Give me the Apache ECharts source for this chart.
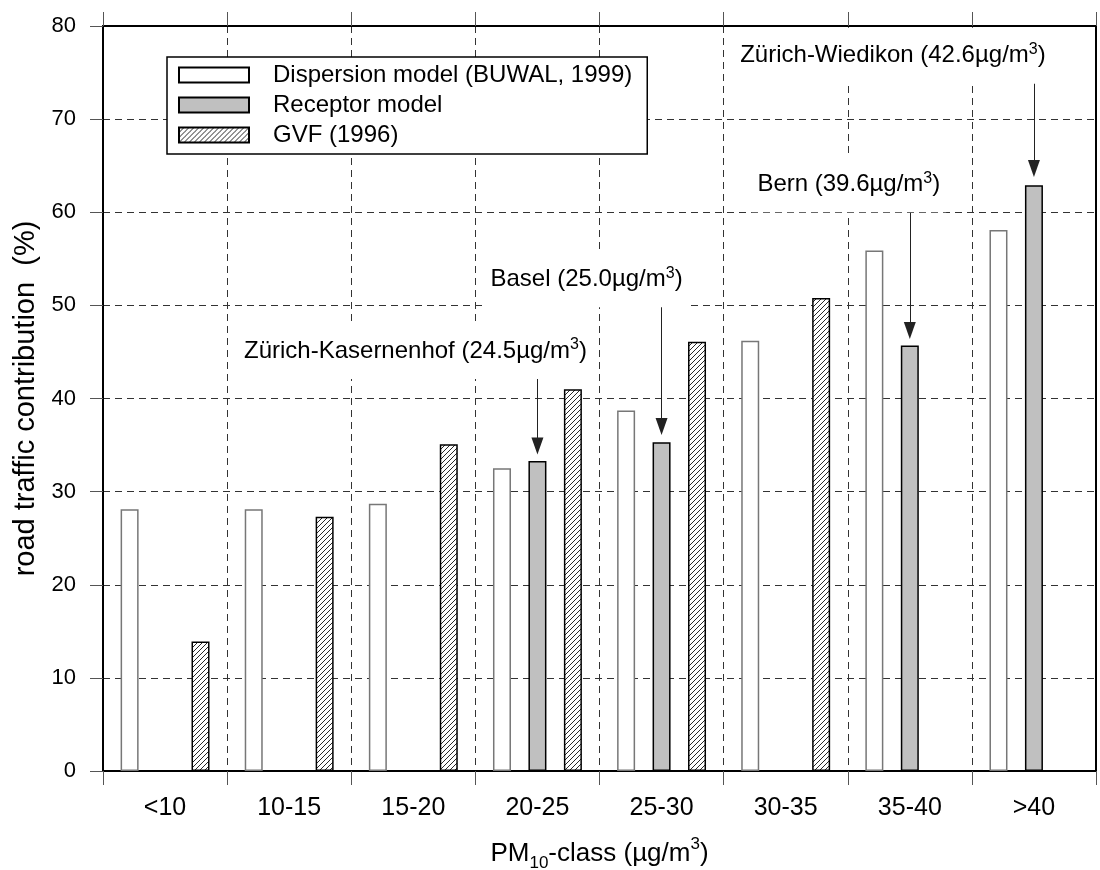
<!DOCTYPE html>
<html>
<head>
<meta charset="utf-8">
<title>PM10 road traffic contribution</title>
<script src="https://cdn.jsdelivr.net/npm/echarts@6/dist/echarts.min.js"></script>
<style>
  html, body { margin: 0; padding: 0; background: #fff; }
  #chart { width: 1100px; height: 870px; }
</style>
</head>
<body>
<div id="chart"></div>
<script>
// PM10 classes on the x axis
var categories = ['<10', '10-15', '15-20', '20-25', '25-30', '30-35', '35-40', '>40'];
var legendNames = ['Dispersion model (BUWAL, 1999)', 'Receptor model', 'GVF (1996)'];

// road traffic contribution (%) per class
var dispersion = [28.1, 28.1, 28.7, 32.5, 38.7, 46.2, 55.9, 58.1];
var receptor   = [null, null, null, 33.3, 35.3, null, 45.7, 62.9];
var gvf        = [13.9, 27.3, 35.1, 41.0, 46.1, 50.8, null, null];

// receptor-model sites (annotations)
var siteNames  = ['Zürich-Kasernenhof', 'Basel', 'Bern', 'Zürich-Wiedikon'];
var siteConc   = ['24.5', '25.0', '39.6', '42.6'];
var siteClass  = ['20-25', '25-30', '35-40', '>40'];
var labelLevel = [45.1, 52.8, 63.0, 76.8];
var arrowFrom  = [42.5, 50.6, 60.6, 74.3];
var arrowTo    = [34.9, 37.0, 47.3, 64.7];

var FONT = '"Liberation Sans", Arial, sans-serif';
var labelShift = [-122, -75, -61, -141];

function makeHatch() {
    var c = document.createElement('canvas');
    c.width = 5; c.height = 5;
    var g = c.getContext('2d');
    g.fillStyle = '#fff';
    g.fillRect(0, 0, 5, 5);
    g.strokeStyle = '#111';
    g.lineWidth = 0.9;
    g.beginPath();
    g.moveTo(0, 5); g.lineTo(5, 0);
    g.moveTo(-1, 1); g.lineTo(1, -1);
    g.moveTo(4, 6); g.lineTo(6, 4);
    g.stroke();
    return c;
}

var arrows = [];
var labels = [];
for (var i = 0; i < siteNames.length; i++) {
    arrows.push([
        { coord: [siteClass[i], arrowFrom[i]], symbol: 'none' },
        { coord: [siteClass[i], arrowTo[i]], symbol: 'triangle', symbolSize: [12, 17] }
    ]);
    labels.push({
        coord: [siteClass[i], labelLevel[i]],
        label: {
            offset: [labelShift[i], 0],
            formatter: '{t|' + siteNames[i] + ' (' + siteConc[i] + 'µg/m}{sup|3}{t|)}'
        }
    });
}

var richText = {
    t: { fontSize: 24, fontFamily: FONT, color: '#000', lineHeight: 28 },
    sup: { fontSize: 16, fontFamily: FONT, color: '#000', lineHeight: 28, verticalAlign: 'top' }
};

var myChart = echarts.init(document.getElementById('chart'));

var option = {
    backgroundColor: '#fff',
    animation: false,
    textStyle: { fontFamily: FONT },
    grid: { left: 103, right: 4, top: 26, bottom: 99, outerBoundsMode: 'none', containLabel: false },
    legend: {
        orient: 'vertical',
        left: 167,
        top: 57,
        padding: [6, 15, 7, 11],
        itemGap: 6,
        itemWidth: 70,
        itemHeight: 15,
        icon: 'rect',
        borderColor: '#000',
        borderWidth: 1.5,
        backgroundColor: '#fff',
        textStyle: { fontSize: 24, color: '#000', fontFamily: FONT, padding: [0, 0, 0, 19] },
        data: [
            { name: legendNames[0], itemStyle: { borderColor: '#000' } },
            { name: legendNames[1] },
            { name: legendNames[2] }
        ]
    },
    xAxis: [{
        type: 'category',
        data: categories,
        position: 'bottom',
        axisLine: { onZero: false, lineStyle: { color: '#000', width: 2 } },
        axisTick: { show: true, length: 14, lineStyle: { color: '#555', width: 1 } },
        axisLabel: { fontSize: 25, color: '#000', margin: 25, fontFamily: FONT },
        splitLine: { show: true, lineStyle: { color: '#333', width: 1, type: [7, 5] } },
        name: '{t|PM}{sub|10}{t|-class (µg/m}{sup|3}{t|)}',
        nameLocation: 'middle',
        nameGap: 65,
        nameTextStyle: {
            rich: {
                t: { fontSize: 26, fontFamily: FONT, color: '#000', lineHeight: 36 },
                sub: { fontSize: 17, fontFamily: FONT, color: '#000', lineHeight: 36, verticalAlign: 'bottom' },
                sup: { fontSize: 17, fontFamily: FONT, color: '#000', lineHeight: 36, verticalAlign: 'top' }
            }
        }
    }, {
        type: 'category',
        data: categories,
        position: 'top',
        axisLine: { show: true, onZero: false, lineStyle: { color: '#000', width: 2 } },
        axisTick: { show: true, inside: false, length: 14, lineStyle: { color: '#555', width: 1 } },
        axisLabel: { show: false },
        splitLine: { show: false }
    }],
    yAxis: [{
        type: 'value',
        min: 0,
        max: 80,
        interval: 10,
        axisLine: { show: true, onZero: false, lineStyle: { color: '#000', width: 2 } },
        axisTick: { show: true, length: 13, lineStyle: { color: '#555', width: 1 } },
        axisLabel: { fontSize: 22, color: '#000', margin: 27, fontFamily: FONT },
        splitLine: { show: true, lineStyle: { color: '#333', width: 1, type: [7, 5] } },
        name: 'road traffic contribution  (%)',
        nameLocation: 'middle',
        nameGap: 60,
        nameTextStyle: { fontSize: 29, color: '#000', fontFamily: FONT }
    }, {
        type: 'value',
        position: 'right',
        min: 0,
        max: 80,
        interval: 10,
        axisLine: { show: true, onZero: false, lineStyle: { color: '#000', width: 2 } },
        axisTick: { show: false },
        axisLabel: { show: false },
        splitLine: { show: false }
    }],
    series: [{
        name: legendNames[0],
        type: 'bar',
        data: dispersion,
        barWidth: 18,
        barGap: '97%',
        itemStyle: { color: '#fff', borderColor: '#777', borderWidth: 1.5 }
    }, {
        name: legendNames[1],
        type: 'bar',
        data: receptor,
        barWidth: 18,
        barGap: '97%',
        itemStyle: { color: '#c0c0c0', borderColor: '#000', borderWidth: 1.5 },
        markLine: {
            silent: true,
            label: { show: false },
            lineStyle: { color: '#222', width: 1, type: 'solid' },
            data: arrows
        },
        markPoint: {
            silent: true,
            symbol: 'circle',
            symbolSize: 1,
            itemStyle: { color: 'rgba(0,0,0,0)' },
            label: {
                show: true,
                position: 'inside',
                backgroundColor: '#fff',
                padding: [14, 6],
                rich: richText
            },
            data: labels
        }
    }, {
        name: legendNames[2],
        type: 'bar',
        data: gvf,
        barWidth: 18,
        barGap: '97%',
        itemStyle: { color: { image: makeHatch(), repeat: 'repeat' }, borderColor: '#000', borderWidth: 1.5 }
    }]
};

myChart.setOption(option);

window.addEventListener('resize', function () {
    myChart.resize();
});
</script>
</body>
</html>
